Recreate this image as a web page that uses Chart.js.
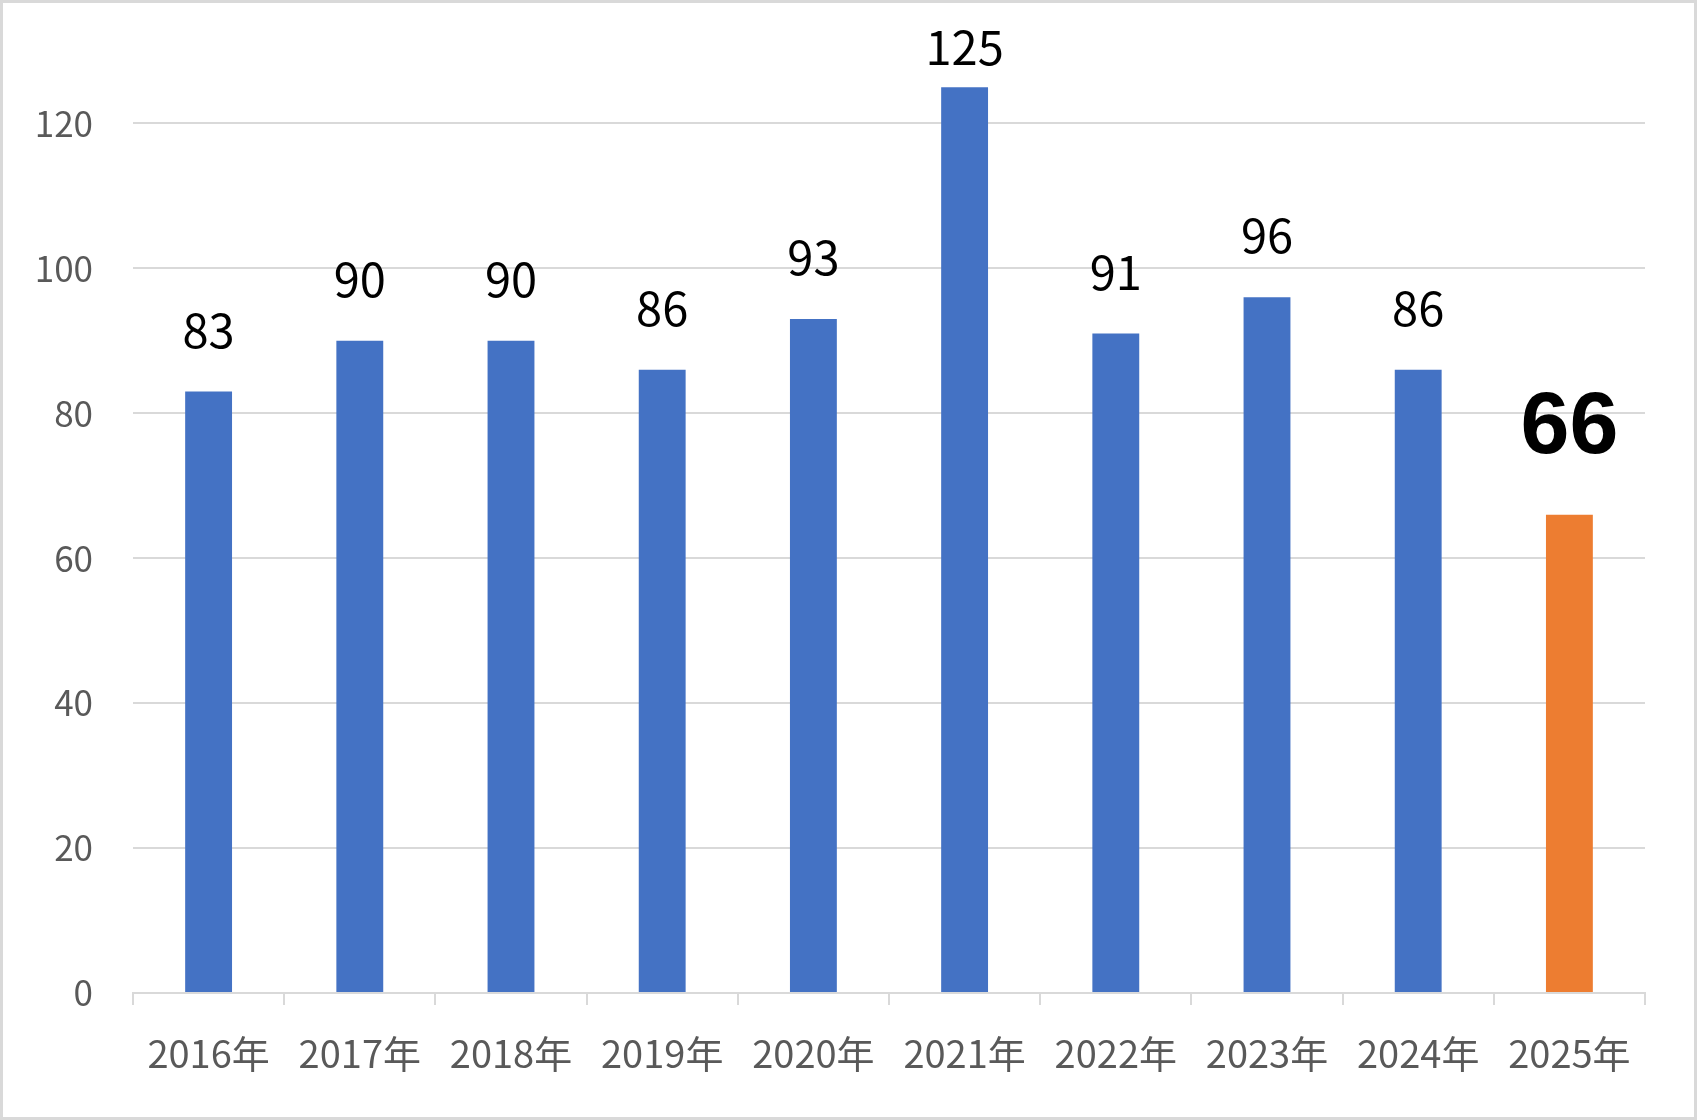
<!DOCTYPE html>
<html lang="ja">
<head>
<meta charset="utf-8">
<script src="https://cdn.jsdelivr.net/npm/chart.js@4/dist/chart.umd.min.js"></script>
<style>
  html, body { margin: 0; padding: 0; background: #fff; }
  #wrap { width: 1697px; height: 1120px; }
</style>
</head>
<body>
<div id="wrap"><canvas id="chart" width="1697" height="1120"></canvas></div>
<script>
// ---------- data ----------
const years  = ["2016年", "2017年", "2018年", "2019年", "2020年", "2021年", "2022年", "2023年", "2024年", "2025年"];
const counts = [83, 90, 90, 86, 93, 125, 91, 96, 86, 66];
const barColors = ["#4472C4", "#4472C4", "#4472C4", "#4472C4", "#4472C4", "#4472C4", "#4472C4", "#4472C4", "#4472C4", "#ED7D31"];
const yTicks = [0, 20, 40, 60, 80, 100, 120];

const FONT = "'Noto Sans CJK JP', 'Noto Sans', sans-serif";

// ---------- plugins ----------
const frame = {
  id: "frame",
  beforeDraw(chart) {
    const c = chart.ctx;
    c.save();
    c.fillStyle = "#fff";
    c.fillRect(0, 0, chart.width, chart.height);
    c.restore();
  },
  afterDraw(chart) {
    const c = chart.ctx;
    c.save();
    c.strokeStyle = "#d9d9d9";
    c.lineWidth = 3;
    c.strokeRect(1.5, 1.5, chart.width - 3, chart.height - 3);
    c.restore();
  },
};

// value labels above bars (last one bold and big)
const valueLabels = {
  id: "valueLabels",
  afterDatasetsDraw(chart) {
    const c = chart.ctx;
    const meta = chart.getDatasetMeta(0);
    c.save();
    c.textAlign = "center";
    c.textBaseline = "alphabetic";
    c.fillStyle = "#000";
    meta.data.forEach((bar, i) => {
      const last = i === counts.length - 1;
      c.font = last ? `bold 88px 'Liberation Sans', Arial, sans-serif` : `47px ${FONT}`;
      const gap = last ? 62 : 44;
      const y = Math.max(bar.y - gap, 65);
      c.fillText(String(counts[i]), bar.x, y);
    });
    c.restore();
  },
};

new Chart(document.getElementById("chart"), {
  type: "bar",
  data: {
    labels: years,
    datasets: [{
      data: counts,
      backgroundColor: barColors,
      borderWidth: 0,
      categoryPercentage: 1,
      barPercentage: 0.31,
    }],
  },
  options: {
    responsive: false,
    animation: false,
    devicePixelRatio: 1,
    layout: { padding: { top: 51, right: 52, left: 0, bottom: 0 } },
    plugins: { legend: { display: false }, tooltip: { enabled: false } },
    scales: {
      x: {
        offset: true,
        grid: { drawOnChartArea: false, drawTicks: true, tickLength: 12, color: "#d9d9d9", lineWidth: 2, offset: true },
        border: { color: "#d9d9d9", width: 2 },
        ticks: { color: "#595959", font: { family: FONT, size: 38 }, padding: 26, maxRotation: 0 },
        afterFit: (s) => { s.height = 127; },
      },
      y: {
        min: 0,
        max: 130,
        afterBuildTicks: (s) => { s.ticks = yTicks.map((v) => ({ value: v })); },
        // invisible tick marks give the label gap without padding the top
        grid: { color: "#d9d9d9", lineWidth: 2, drawTicks: true, tickLength: 40, tickColor: "rgba(0,0,0,0)" },
        border: { display: false },
        ticks: { color: "#595959", font: { family: FONT, size: 35 }, padding: 0 },
        afterFit: (s) => { s.width = 133; },
      },
    },
  },
  plugins: [frame, valueLabels],
});
</script>
</body>
</html>
